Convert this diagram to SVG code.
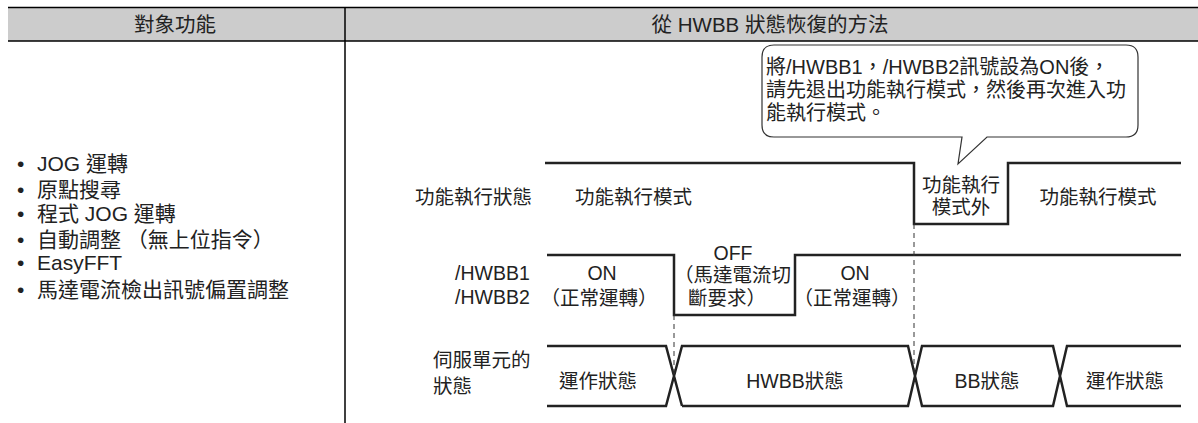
<svg xmlns="http://www.w3.org/2000/svg" width="1198" height="423" viewBox="0 0 1198 423">
<style>
text{font-family:"Liberation Sans","Noto Sans CJK TC",sans-serif;font-size:19.5px;fill:#222;}
.c{text-anchor:middle;}
.li{font-size:21px;}
.bul{font-size:21px;}
.call{font-size:20px;}
.hd{font-size:20.5px;}
.sig{fill:none;stroke:#222;stroke-width:2.5;stroke-linejoin:miter;}
.dash{fill:none;stroke:#333;stroke-width:1;stroke-dasharray:5,4;}
.tbl{stroke:#000;stroke-width:1.5;fill:none;}
</style>
<g id="table">
<rect x="8" y="8" width="1190" height="33" fill="#cccccc"/>
<line class="tbl" x1="8" y1="7.5" x2="1198" y2="7.5"/>
<line class="tbl" x1="8" y1="41" x2="1198" y2="41"/>
<line class="tbl" x1="345" y1="8" x2="345" y2="423"/>
<text class="c hd" x="175" y="31.5">對象功能</text>
<text class="c hd" x="770" y="31.5">從 HWBB 狀態恢復的方法</text>
</g>
<g id="function-list">
<text class="bul" x="17" y="171">•</text>
<text class="li" x="37" y="171">JOG 運轉</text>
<text class="bul" x="17" y="197">•</text>
<text class="li" x="37" y="197">原點搜尋</text>
<text class="bul" x="17" y="221">•</text>
<text class="li" x="37" y="221">程式 JOG 運轉</text>
<text class="bul" x="17" y="247">•</text>
<text class="li" x="37" y="247">自動調整 （無上位指令）</text>
<text class="bul" x="17" y="270">•</text>
<text class="li" x="37" y="270">EasyFFT</text>
<text class="bul" x="17" y="297">•</text>
<text class="li" x="37" y="297">馬達電流檢出訊號偏置調整</text>
</g>
<g id="callout">
<path d="M774,45 H1126 Q1138,45 1138,57 V125 Q1138,137 1126,137 H987 L958,164 L962,137 H774 Q762,137 762,125 V57 Q762,45 774,45 Z" fill="#fff" stroke="#333" stroke-width="1.2"/>
<text class="call" x="766" y="74">將/HWBB1，/HWBB2訊號設為ON後，</text>
<text class="call" x="766" y="97">請先退出功能執行模式，然後再次進入功</text>
<text class="call" x="766" y="120">能執行模式。</text>
</g>
<g id="row-function-state">
<text x="415" y="204">功能執行狀態</text>
<text x="575" y="204">功能執行模式</text>
<text class="c" x="961" y="192">功能執行</text>
<text class="c" x="961" y="214">模式外</text>
<text class="c" x="1098" y="204">功能執行模式</text>
</g>
<g id="row-hwbb">
<text x="455" y="280">/HWBB1</text>
<text x="455" y="304">/HWBB2</text>
<text class="c" x="602" y="280">ON</text>
<text class="c" x="599" y="305">（正常運轉）</text>
<text class="c" x="733" y="260">OFF</text>
<text x="674" y="282">（馬達電流切</text>
<text x="688" y="305">斷要求）</text>
<text class="c" x="855" y="280">ON</text>
<text class="c" x="852" y="305">（正常運轉）</text>
</g>
<g id="row-servo">
<text x="433" y="367">伺服單元的</text>
<text x="433" y="393">狀態</text>
<text class="c" x="598" y="388">運作狀態</text>
<text class="c" x="795" y="388">HWBB狀態</text>
<text class="c" x="987" y="388">BB狀態</text>
<text class="c" x="1125" y="388">運作狀態</text>
</g>
<g id="connectors">
<path class="sig" d="M545,163 H914 V224 H1008 V163 H1181"/>
<path class="sig" d="M547,255 H674 V315 H795 V255 H1181"/>
<path class="sig" d="M547,346 H666 L682,406 M547,406 H666 L682,346 H908 L922,406 H1053 L1067,346 H1181 M682,406 H908 L922,346 H1053 L1067,406 H1181"/>
<line class="dash" x1="674" y1="315" x2="674" y2="376"/>
<line class="dash" x1="914" y1="224" x2="914" y2="376"/>
</g>
</svg>
